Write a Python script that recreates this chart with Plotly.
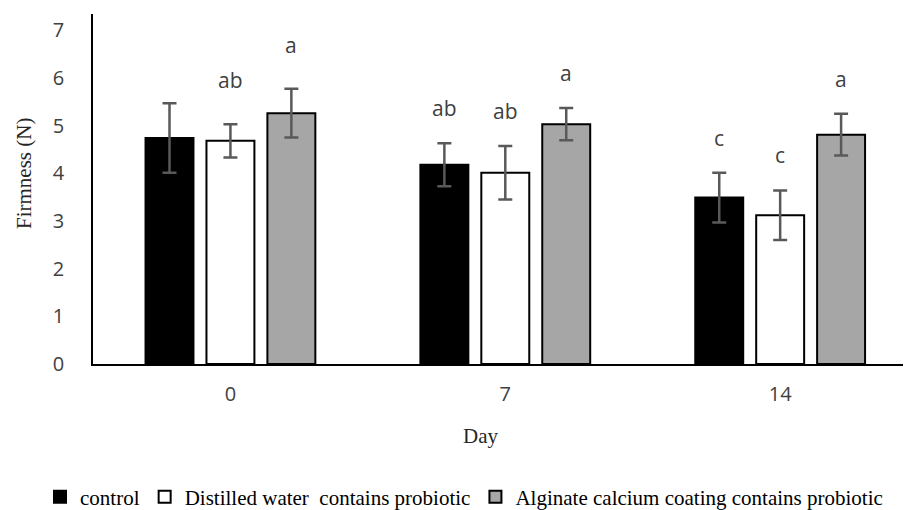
import plotly.graph_objects as go

days = ["0", "7", "14"]
series_names = ["control", "Distilled water\u00a0 contains probiotic",
                "Alginate calcium coating contains probiotic"]
control_mean = [4.74, 4.18, 3.49]
control_sd = [0.73, 0.45, 0.52]
water_mean = [4.68, 4.01, 3.12]
water_sd = [0.35, 0.56, 0.52]
alginate_mean = [5.26, 5.03, 4.81]
alginate_sd = [0.51, 0.34, 0.44]
control_letters = ["", "ab", "c"]
water_letters = ["ab", "ab", "c"]
alginate_letters = ["a", "a", "a"]

means = [control_mean, water_mean, alginate_mean]
sds = [control_sd, water_sd, alginate_sd]
letters = [control_letters, water_letters, alginate_letters]
fills = ["#000000", "#ffffff", "#a6a6a6"]

# page body has an 8px margin: work in reference pixels minus 8
OFF = 8
W, H = 911 - OFF, 510 - OFF
ml, mr, mt = 93 - OFF, 0, 14 - OFF
mb = H - (364 - OFF)
xr = [-0.5, 2.476]
bargap = 0.335
pw = W - ml - mr
ph = H - mt - mb
px_per_unit = pw / (xr[1] - xr[0])
slot = (1 - bargap) / 3


def px_x(x):
    return (x - OFF - ml) / pw


def px_y(y):
    return (H - mb - (y - OFF)) / ph


fig = go.Figure()
for i in range(3):
    fig.add_trace(go.Bar(
        x=days, y=means[i], name=series_names[i],
        marker=dict(color=fills[i], line=dict(color="#000000", width=2)),
        error_y=dict(type="data", array=sds[i], visible=True,
                     color="#595959", thickness=2.5, width=7),
    ))

annotations = []
for i in range(3):
    for j, d in enumerate(days):
        if not letters[i][j]:
            continue
        shift = 44 if j == 0 else 35
        annotations.append(dict(
            x=j, y=means[i][j] + sds[i][j], xref="x", yref="y",
            text=letters[i][j], showarrow=False,
            xshift=(i - 1) * slot * px_per_unit, yshift=shift,
            xanchor="center", yanchor="middle",
            font=dict(family="Open Sans", size=21, color="#404040"),
        ))

annotations.append(dict(
    x=px_x(24), y=px_y(174), xref="paper", yref="paper",
    text="Firmness (N)", textangle=-90, showarrow=False,
    xanchor="center", yanchor="middle",
    font=dict(family="Liberation Serif", size=21, color="#262626"),
))
annotations.append(dict(
    x=px_x(480), y=px_y(436), xref="paper", yref="paper",
    text="Day", showarrow=False, xanchor="center", yanchor="middle",
    font=dict(family="Liberation Serif", size=21, color="#262626"),
))

fig.update_layout(
    width=W, height=H,
    margin=dict(l=ml, r=mr, t=mt, b=mb, autoexpand=False),
    paper_bgcolor="white", plot_bgcolor="white",
    barmode="group", bargap=bargap, bargroupgap=0.213,
    showlegend=True,
    legend=dict(orientation="h", x=px_x(40), xanchor="left",
                y=px_y(497), yanchor="middle",
                font=dict(family="Liberation Serif", size=21, color="#000000"),
                tracegroupgap=0),
    annotations=annotations,
    xaxis=dict(range=xr, showline=True, linecolor="#000000", linewidth=1.5,
               showgrid=False, ticks="", ticklabelstandoff=11,
               tickfont=dict(family="Open Sans", size=20, color="#404040")),
    yaxis=dict(range=[0, 7.34], showline=True, linecolor="#000000", linewidth=1.5,
               showgrid=False, zeroline=False, ticks="", dtick=1,
               ticklabelstandoff=23,
               tickfont=dict(family="Open Sans", size=20, color="#404040")),
)

fig.write_html("out.html")
